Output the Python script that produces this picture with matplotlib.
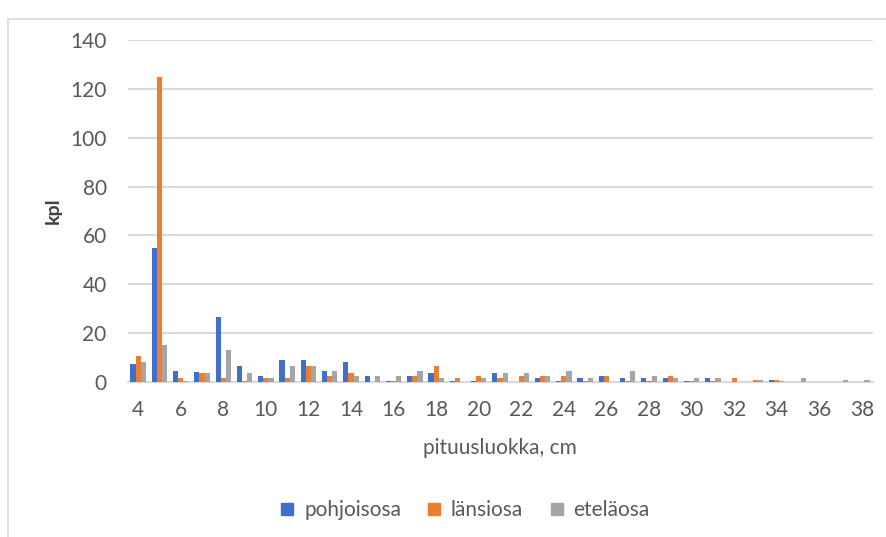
import matplotlib
matplotlib.use("Agg")
import matplotlib.pyplot as plt
import numpy as np
from matplotlib.lines import Line2D

categories = list(range(4, 39))
pohjoisosa = [7.5, 55, 4.5, 4, 26.5, 6.5, 2.5, 9, 9, 4.5, 8, 2.5, 0.5, 2.5, 3.5, 0.5, 0.5, 3.5, 0, 1.5,
              0.5, 1.5, 2.5, 1.5, 1.5, 1.5, 0.5, 1.5, 0, 0, 0.8, 0, 0, 0, 0]
lansiosa = [10.5, 125, 1.5, 3.5, 1.5, 0.5, 1.5, 1.5, 6.5, 2.5, 3.5, 0, 0.5, 2.5, 6.5, 1.5, 2.5, 1.5, 2.5, 2.5,
            2.5, 0.5, 2.5, 0.5, 0.5, 2.5, 0.5, 0.5, 1.5, 0.8, 0.8, 0, 0, 0, 0]
etelaosa = [8, 15, 0.3, 3.5, 13, 3.5, 1.5, 6.5, 6.5, 4.5, 2.5, 2.5, 2.5, 4.5, 1.5, 0, 1.5, 3.5, 3.5, 2.5,
            4.5, 1.5, 0, 4.5, 2.5, 1.5, 1.5, 1.5, 0, 0.8, 0.5, 1.5, 0, 0.8, 0.8]
series_names = ["pohjoisosa", "länsiosa", "eteläosa"]
colors = ["#3F6FCC", "#ED7D31", "#A5A5A5"]
xticks = list(range(4, 39, 2))
yticks = list(range(0, 141, 20))

plt.rcParams['font.family'] = ['Lato', 'DejaVu Sans']
fig = plt.figure(figsize=(8.86, 5.37), dpi=100)
W, H = 886, 537
ax = fig.add_axes([127.5 / W, (H - 382) / H, (872.5 - 127.5) / W, (382 - 40) / H])

x = np.array(categories, dtype=float)
bw = 0.24
for i, (vals, c, name) in enumerate(zip([pohjoisosa, lansiosa, etelaosa], colors, series_names)):
    ax.bar(x + (i - 1) * bw, vals, width=bw, color=c, label=name, zorder=3)

ax.set_xlim(categories[0] - 0.5, categories[-1] + 0.5)
ax.set_ylim(0, 140)
ax.set_yticks(yticks)
ax.set_xticks(xticks)
ax.set_xticklabels([str(t) for t in xticks])
ax.yaxis.grid(True, color="#d9d9d9", linewidth=1.5, zorder=0)
ax.set_axisbelow(True)
for s in ["top", "right", "left"]:
    ax.spines[s].set_visible(False)
ax.spines["bottom"].set_color("#d9d9d9")
ax.spines["bottom"].set_linewidth(1.5)
ax.tick_params(axis="both", length=0, labelsize=15, colors="#595959")
ax.tick_params(axis="x", pad=13)
ax.tick_params(axis="y", pad=15)
ax.set_xlabel("pituusluokka, cm", fontsize=15, color="#595959", labelpad=13)
ax.set_ylabel("kpl", fontsize=14, color="#404040", fontweight="bold", labelpad=6)

handles = [Line2D([0], [0], marker="s", linestyle="", markersize=9, color=c) for c in colors]
fig.legend(handles, series_names, loc="center", bbox_to_anchor=(458 / W, 1 - 510 / H),
           ncol=3, frameon=False, fontsize=15, handletextpad=-0.2, columnspacing=0.6,
           labelcolor="#595959")

# chart border (left and top)
fig.add_artist(Line2D([8 / W, 8 / W], [0, 1 - 19 / H], transform=fig.transFigure, color="#d9d9d9", lw=1.2))
fig.add_artist(Line2D([8 / W, 1], [1 - 19 / H, 1 - 19 / H], transform=fig.transFigure, color="#d9d9d9", lw=1.2))

fig.savefig("out.png", dpi=100)
